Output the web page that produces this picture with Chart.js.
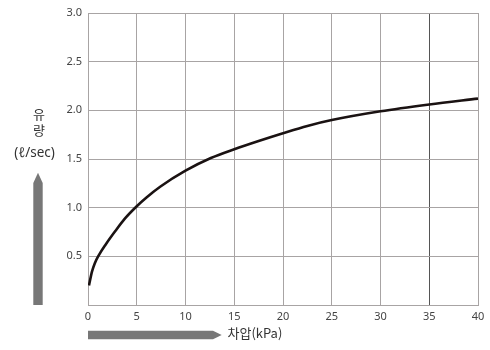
<!DOCTYPE html>
<html>
<head>
<meta charset="utf-8">
<script src="https://cdn.jsdelivr.net/npm/chart.js@4"></script>
<style>
html,body{margin:0;padding:0;background:#fff;}
#wrap{width:490px;height:350px;position:relative;}
</style>
</head>
<body>
<div id="wrap"><canvas id="c" width="490" height="350"></canvas></div>
<script>
// Data
const pressure = [0.1, 0.4, 0.7, 1.1, 1.8, 2.8, 3.8, 5, 6, 7.4, 10, 12.6, 15, 17.5, 20, 22.5, 25, 30, 35, 40]; // kPa
const flow = [0.2, 0.34, 0.43, 0.51, 0.62, 0.76, 0.89, 1.015, 1.105, 1.215, 1.38, 1.51, 1.60, 1.685, 1.765, 1.84, 1.90, 1.99, 2.06, 2.12]; // l/sec
const xTicks = [0, 5, 10, 15, 20, 25, 30, 35, 40];
const yTicks = [0.5, 1.0, 1.5, 2.0, 2.5, 3.0];
const yTitleLines = ['유', '량', '(ℓ/sec)'];
const xTitle = '차압(kPa)';

const points = pressure.map((x, i) => ({x: x, y: flow[i]}));

const decor = {
  id: 'decor',
  afterDraw(chart) {
    const ctx = chart.ctx;
    const a = chart.chartArea;
    ctx.save();
    ctx.fillStyle = '#777';
    // up arrow (pencil shape)
    const ux0 = 33.3, ux1 = 42.7, uTip = 172.7, uHead = 183;
    ctx.beginPath();
    ctx.moveTo(ux0, a.bottom);
    ctx.lineTo(ux0, uHead);
    ctx.lineTo((ux0 + ux1) / 2, uTip);
    ctx.lineTo(ux1, uHead);
    ctx.lineTo(ux1, a.bottom);
    ctx.closePath();
    ctx.fill();
    // right arrow
    const ry0 = 330.7, ry1 = 339.3, rTip = 221.7, rHead = 213;
    ctx.beginPath();
    ctx.moveTo(a.left, ry0);
    ctx.lineTo(rHead, ry0);
    ctx.lineTo(rTip, (ry0 + ry1) / 2);
    ctx.lineTo(rHead, ry1);
    ctx.lineTo(a.left, ry1);
    ctx.closePath();
    ctx.fill();
    // titles
    ctx.fillStyle = '#333';
    ctx.textBaseline = 'middle';
    ctx.textAlign = 'center';
    ctx.font = '13px "Noto Sans CJK KR", "Noto Sans", sans-serif';
    ctx.fillText(yTitleLines[0], 39, 114.5);
    ctx.fillText(yTitleLines[1], 39, 130);
    ctx.font = '13.5px "Noto Sans", "Noto Sans CJK KR", sans-serif';
    ctx.fillText(yTitleLines[2], 34.5, 153.5);
    ctx.textAlign = 'left';
    ctx.font = '13px "Noto Sans CJK KR", "Noto Sans", sans-serif';
    ctx.fillText(xTitle, 227.5, 333.5);
    ctx.restore();
  }
};

new Chart(document.getElementById('c'), {
  type: 'scatter',
  data: {
    datasets: [{
      data: points,
      showLine: true,
      borderColor: '#1a1212',
      borderWidth: 2.6,
      pointRadius: 0,
      fill: false,
      cubicInterpolationMode: 'monotone'
    }]
  },
  options: {
    responsive: false,
    animation: false,
    devicePixelRatio: 1,
    layout: {padding: {left: 0, right: 12, top: 13, bottom: 0}},
    plugins: {legend: {display: false}, tooltip: {enabled: false}},
    scales: {
      x: {
        type: 'linear',
        min: 0, max: 40,
        afterBuildTicks(scale) { scale.ticks = xTicks.map(v => ({value: v})); },
        afterFit(scale) { scale.height = 45; },
        ticks: {
          padding: 5,
          color: '#444',
          font: {family: '"Noto Sans", sans-serif', size: 11},
          maxRotation: 0,
          callback: v => String(v)
        },
        grid: {
          color: ctx => (ctx.tick && ctx.tick.value === 35) ? '#555' : '#a8a4a4',
          lineWidth: 1,
          drawTicks: false
        },
        border: {color: '#a8a4a4', width: 1}
      },
      y: {
        type: 'linear',
        min: 0, max: 3,
        afterBuildTicks(scale) { scale.ticks = [{value: 0}].concat(yTicks.map(v => ({value: v}))); },
        afterFit(scale) { scale.width = 88; },
        ticks: {
          padding: 6,
          color: '#444',
          font: {family: '"Noto Sans", sans-serif', size: 11},
          callback: v => v === 0 ? '' : v.toFixed(1)
        },
        grid: {
          color: '#a8a4a4',
          lineWidth: 1,
          drawTicks: false
        },
        border: {color: '#a8a4a4', width: 1}
      }
    }
  },
  plugins: [decor]
});
</script>
</body>
</html>
